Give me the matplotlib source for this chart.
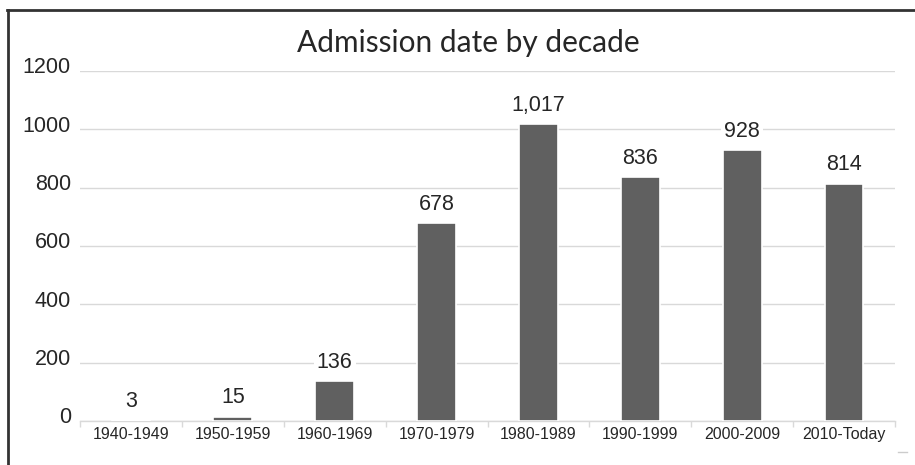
import matplotlib
matplotlib.use("Agg")
import matplotlib.pyplot as plt
import matplotlib.transforms as mtransforms
from matplotlib.lines import Line2D

# --------------------------------------------------
# Data
# --------------------------------------------------
decades = ["1940-1949", "1950-1959", "1960-1969", "1970-1979",
           "1980-1989", "1990-1999", "2000-2009", "2010-Today"]
admissions = [3, 15, 136, 678, 1017, 836, 928, 814]
y_ticks = [0, 200, 400, 600, 800, 1000, 1200]

plt.rcParams['font.family'] = ['Liberation Sans', 'DejaVu Sans']

bar_color = "#606060"
grid_color = "#d9d9d9"
text_color = "#262626"

fig = plt.figure(figsize=(9.15, 4.65), dpi=100)
ax = fig.add_axes([80 / 915, 1 - 421 / 465, 815 / 915, 350 / 465])

x = list(range(len(decades)))
bars = ax.bar(x, admissions, width=0.38, color=bar_color,
              edgecolor="white", linewidth=1.2, zorder=3)

ax.set_xlim(-0.5, len(decades) - 0.5)
ax.set_ylim(0, 1200)
ax.set_yticks(y_ticks)
ax.set_yticklabels([str(v) for v in y_ticks])
ax.set_xticks(x)
ax.set_xticklabels(decades)

# category separators
ax.set_xticks([i - 0.5 for i in range(len(decades) + 1)], minor=True)
ax.tick_params(axis="x", which="minor", length=4, color=grid_color, width=1)
ax.tick_params(axis="x", which="major", length=0, pad=4.5,
               labelsize=11.5, labelcolor=text_color)
ax.tick_params(axis="y", length=0, pad=6.5, labelsize=15.5, labelcolor=text_color)

# y labels sit slightly above their gridlines
offset = mtransforms.ScaledTranslation(0, 4 / 72, fig.dpi_scale_trans)
for lab in ax.get_yticklabels():
    lab.set_transform(lab.get_transform() + offset)

ax.grid(axis="y", color=grid_color, linewidth=1, zorder=0)
ax.set_axisbelow(True)
for side in ["top", "right", "left"]:
    ax.spines[side].set_visible(False)
ax.spines["bottom"].set_color(grid_color)
ax.spines["bottom"].set_linewidth(1)

# data labels
for xi, v in zip(x, admissions):
    ax.annotate(f"{v:,}", (xi, v), xytext=(0, 13.5), textcoords="offset points",
                ha="center", va="center", fontsize=15.5, color=text_color,
                bbox=dict(boxstyle="square,pad=0.15", fc="white", ec="none"),
                zorder=4)

# title
fig.text(468 / 915, 1 - 43 / 465, "Admission date by decade", family="Lato",
         fontsize=21.5, color=text_color, ha="center", va="center")

# outer frame (only top and left edges visible)
fig.add_artist(Line2D([7 / 915, 1], [1 - 10 / 465, 1 - 10 / 465],
                      color="#333333", linewidth=2, transform=fig.transFigure))
fig.add_artist(Line2D([8 / 915, 8 / 915], [1 - 10 / 465, 0],
                      color="#333333", linewidth=2, transform=fig.transFigure))
fig.add_artist(Line2D([898 / 915, 907 / 915], [1 - 452 / 465, 1 - 452 / 465],
                      color="#cccccc", linewidth=1, transform=fig.transFigure))

fig.savefig("out.png", dpi=100, facecolor="white")
